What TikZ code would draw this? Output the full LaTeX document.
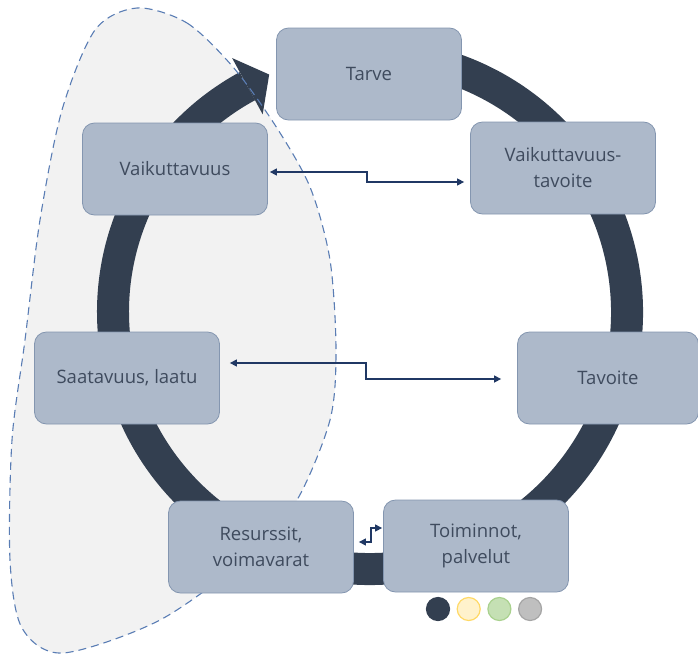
\documentclass[tikz,border=0pt]{standalone}
\usepackage{fontspec}
\setmainfont{Open Sans}
\usetikzlibrary{arrows.meta, positioning, calc}
\definecolor{ringcol}{HTML}{333F50}
\definecolor{boxfill}{HTML}{ADB9CA}
\definecolor{boxline}{HTML}{8496B0}
\definecolor{txtcol}{HTML}{3F4B5E}
\definecolor{linkcol}{HTML}{203864}
\definecolor{blobfill}{HTML}{F2F2F2}
\definecolor{blobline}{HTML}{5A7DB4}
\definecolor{yelfill}{HTML}{FFF2CC}
\definecolor{yelline}{HTML}{FFD966}
\definecolor{grnfill}{HTML}{C5E0B4}
\definecolor{grnline}{HTML}{A9D18E}
\definecolor{gryfill}{HTML}{BFBFBF}
\definecolor{gryline}{HTML}{A5A5A5}
\tikzstyle{phase} = [rectangle, rounded corners=12pt, minimum width=185pt, minimum height=92pt, align=center, draw=boxline, fill=boxfill, text=txtcol, font=\fontsize{18.5}{26}\selectfont, line width=0.8pt]
\tikzstyle{link} = [draw=linkcol, line width=1.4pt, {Triangle[length=7pt,width=7pt]}-{Triangle[length=7pt,width=7pt]}]
\tikzstyle{dot} = [circle, minimum size=23pt, inner sep=0pt, line width=1.2pt]

\begin{document}
\begin{tikzpicture}[x=1pt, y=-1pt]
    \useasboundingbox (0,0) rectangle (698,656);
    % shaded area on the left
    \fill[blobfill] plot[smooth cycle] coordinates {(137,8) (187,23) (233,67) (275,125) (310,187) (330,260) (336,350) (330,420) (297,500) (250,555) (160,620) (63,653) (22,628) (10,560) (12,440) (25,340) (40,220) (62,110) (95,30)};
    % the cycle arrow
    \coordinate (mid) at (370,312);
    \draw[ringcol, line width=32pt] ($(mid)+(-100:257)$) arc[start angle=-100, end angle=241.5, radius=257];
    \fill[ringcol] ($(mid)+(241.5:289)$) -- ($(mid)+(247:258)$) -- ($(mid)+(241.5:225)$) -- cycle;
    \draw[blobline, line width=1.1pt, dash pattern=on 8pt off 5pt] plot[smooth cycle] coordinates {(137,8) (187,23) (233,67) (275,125) (310,187) (330,260) (336,350) (330,420) (297,500) (250,555) (160,620) (63,653) (22,628) (10,560) (12,440) (25,340) (40,220) (62,110) (95,30)};

    \node (tarve) [phase] at (369,74) {Tarve};
    \node (vtav) [phase] at (563,168) {Vaikuttavuus-\\tavoite};
    \node (tavoite) [phase, minimum width=181pt] at (608,378) {Tavoite};
    \node (toim) [phase] at (476,546) {Toiminnot,\\palvelut};
    \node (res) [phase] at (261,547) {Resurssit,\\voimavarat};
    \node (saat) [phase] at (127,378) {Saatavuus, laatu};
    \node (vaik) [phase] at (175,169) {Vaikuttavuus};

    \draw [link] ($(vaik.east)+(2,3)$) -- ++(97,0) -- ++(0,10) -- ($(vtav.west)+(-6,14)$);
    \draw [link] ($(saat.east)+(10,-15)$) -- ++(136,0) -- ++(0,16) -- ($(tavoite.west)+(-16,1)$);
    \draw [link, line width=1.2pt] ($(res.east)+(5,-5)$) -- ++(12,0) -- ++(0,-14) -- ($(toim.west)+(-1,-18)$);

    \node (dot1) [dot, fill=ringcol, draw=ringcol] at (438,609) {};
    \node (dot2) [dot, fill=yelfill, draw=yelline] [right=6.5pt of dot1] {};
    \node (dot3) [dot, fill=grnfill, draw=grnline] [right=6.5pt of dot2] {};
    \node (dot4) [dot, fill=gryfill, draw=gryline] [right=6.5pt of dot3] {};
\end{tikzpicture}
\end{document}
